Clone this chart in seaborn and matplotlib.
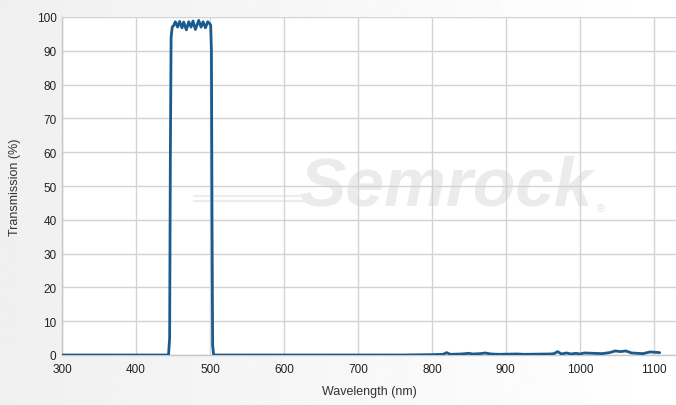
import numpy as np
import seaborn as sns
import matplotlib.pyplot as plt

# transmission spectrum
wavelength = [300, 444, 445.5, 446.5, 447.5, 449, 451, 453.2, 456.3, 459.0, 462.2,
              464.5, 468.1, 471.3, 474.4, 477.1, 480.3, 484.8, 488.0, 490.7, 493.9,
              497.0, 499.7, 501.0, 502.0, 502.8, 503.6, 505, 760, 800, 815, 820,
              825, 840, 850, 855, 865, 872, 880, 890, 915, 925, 960, 965, 970, 975,
              982, 988, 995, 1000, 1006, 1030, 1040, 1048, 1055, 1062, 1070, 1085,
              1095, 1102, 1108]
transmission = [0, 0, 5, 60, 94, 97, 97.5, 98.6, 97.0, 98.7, 96.8,
                98.5, 96.2, 98.6, 97.0, 98.8, 96.3, 99.0, 97.0, 98.6, 96.8,
                98.6, 98.0, 97.5, 90, 40, 3, 0, 0, 0.1, 0.2, 0.7,
                0.2, 0.3, 0.5, 0.3, 0.4, 0.6, 0.3, 0.2, 0.3, 0.2, 0.3, 0.4, 1.0, 0.3,
                0.6, 0.3, 0.5, 0.3, 0.6, 0.4, 0.7, 1.2, 1.0, 1.2, 0.6, 0.4,
                0.9, 0.8, 0.7]

x_ticks = [300, 400, 500, 600, 700, 800, 900, 1000, 1100]
y_ticks = [0, 10, 20, 30, 40, 50, 60, 70, 80, 90, 100]

sns.set_theme(style="whitegrid")
plt.rcParams['font.family'] = ['Liberation Sans', 'DejaVu Sans']

fig = plt.figure(figsize=(6.76, 4.06), dpi=100)

# faint grey gradient behind everything, darker on the left
bg = fig.add_axes([0, 0, 1, 1], zorder=-10)
grad = np.linspace(0.94, 1.0, 256).reshape(1, -1)
bg.imshow(grad, aspect="auto", cmap="gray", vmin=0, vmax=1, extent=[0, 1, 0, 1])
bg.axis("off")

ax = fig.add_axes([62 / 676, 1 - 356 / 406, 1 - 62 / 676, (356 - 18) / 406])
ax.set_facecolor("white")

# watermark logo
ax.text(0.625, 0.50, "Semrock", transform=ax.transAxes, ha="center", va="center",
        fontsize=50, fontweight="bold", fontstyle="italic", color="#ebebeb", zorder=0)
ax.text(0.878, 0.435, "®", transform=ax.transAxes, ha="center", va="center",
        fontsize=8, color="#e2e2e2", zorder=0)
for yy in (0.455, 0.47):
    ax.plot([0.215, 0.40], [yy, yy], transform=ax.transAxes, color="#ececec",
            linewidth=1.5, zorder=0)

sns.lineplot(x=wavelength, y=transmission, ax=ax, color="#1a5a8c",
             linewidth=2, estimator=None, zorder=3)

ax.set_xlim(300, 1130)
ax.set_ylim(0, 100)
ax.set_xticks(x_ticks)
ax.set_yticks(y_ticks)
ax.tick_params(axis="both", length=0, labelsize=8.5, colors="#222222")
ax.tick_params(axis="x", pad=6)
ax.tick_params(axis="y", pad=4)
ax.grid(True, color="#d3d3d3", linewidth=1)
for side in ["top", "right"]:
    ax.spines[side].set_visible(False)
for side in ["left", "bottom"]:
    ax.spines[side].set_color("#c8c8c8")
    ax.spines[side].set_linewidth(1)

ax.set_xlabel("Wavelength (nm)", fontsize=9, color="#333333", labelpad=7)
ax.set_ylabel("Transmission (%)", fontsize=9, color="#333333", labelpad=11)

plt.savefig("out.png", dpi=100)
plt.close()
